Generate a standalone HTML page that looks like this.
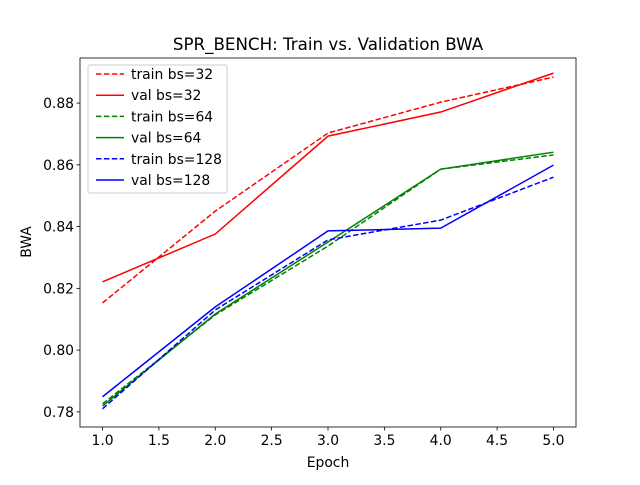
<!DOCTYPE html>
<html><head><meta charset="utf-8"><style>
body{margin:0;background:#fff}
svg{font-family:"DejaVu Sans","Liberation Sans",sans-serif}
</style></head><body>
<svg id="chart" width="640" height="480" xmlns="http://www.w3.org/2000/svg">
<rect width="640" height="480" fill="#fff"/>
<text x="328" y="50" text-anchor="middle" font-size="16.7">SPR_BENCH: Train vs. Validation BWA</text>
<g id="plot"></g>
<text x="328" y="467" text-anchor="middle" font-size="13.9">Epoch</text>
<text transform="translate(31,242) rotate(-90)" text-anchor="middle" font-size="13.9">BWA</text>
</svg>
<script>
const epochs=[1,2,3,4,5];
const train32=[0.8153,0.845,0.8703,0.8803,0.8884];
const val32=[0.8221,0.8376,0.8693,0.8771,0.8897];
const train64=[0.7826,0.8114,0.8337,0.8586,0.8632];
const val64=[0.7819,0.8117,0.835,0.8586,0.8641];
const train128=[0.781,0.813,0.8357,0.8421,0.856];
const val128=[0.7849,0.814,0.8386,0.8395,0.8599];
const xTicks=[1.0,1.5,2.0,2.5,3.0,3.5,4.0,4.5,5.0];
const yTicks=[0.78,0.80,0.82,0.84,0.86,0.88];
const seriesNames=["train bs=32","val bs=32","train bs=64","val bs=64","train bs=128","val bs=128"];
const L=80,R=576,T=58,B=427;
const xmin=0.8,xmax=5.2,ymin=0.7751,ymax=0.8946;
const sx=v=>L+(v-xmin)/(xmax-xmin)*(R-L);
const sy=v=>B-(v-ymin)/(ymax-ymin)*(B-T);
const NS="http://www.w3.org/2000/svg";
const g=document.getElementById('plot');
function mk(t,a){const e=document.createElementNS(NS,t);for(const k in a)e.setAttribute(k,a[k]);g.appendChild(e);return e;}
xTicks.forEach(v=>{const x=sx(v);
 const t=mk('line',{x1:x,x2:x,y1:B,y2:B+3.5,stroke:'#000','stroke-width':0.8});
 
 
 const l=mk('text',{x:x,y:B+18,'text-anchor':'middle','font-size':13.9});l.textContent=v.toFixed(1);
 
 });
yTicks.forEach(v=>{const y=sy(v);
 const t=mk('line',{x1:L-3.5,x2:L,y1:y,y2:y,stroke:'#000','stroke-width':0.8});
 
 
 const l=mk('text',{x:L-6,y:y+5,'text-anchor':'end','font-size':13.9});l.textContent=v.toFixed(2);
 
 });
const series=[[train32,'red',true],[val32,'red',false],[train64,'green',true],[val64,'green',false],[train128,'blue',true],[val128,'blue',false]];
series.forEach((s,i)=>{
 const pts=epochs.map((e,j)=>sx(e)+','+sy(s[0][j])).join(' ');
 const p=mk('polyline',{points:pts,fill:'none',stroke:s[1],'stroke-width':1.5});
 if(s[2])p.setAttribute('stroke-dasharray','5.5,2.4');
 
 
});
const frame=mk('rect',{x:L,y:T,width:R-L,height:B-T,fill:'none',stroke:'#000','stroke-width':0.8});


const lg=mk('rect',{x:88,y:65,width:139,height:128,rx:2,fill:'#fff','fill-opacity':0.8,stroke:'#ccc','stroke-width':1});


series.forEach((s,i)=>{const y=74+i*21.2;
 const ln=mk('line',{x1:96,x2:124,y1:y,y2:y,stroke:s[1],'stroke-width':1.5});
 if(s[2])ln.setAttribute('stroke-dasharray','5.5,2.4');
 
 
 const t=mk('text',{x:131,y:y+5,'font-size':13.9});t.textContent=seriesNames[i];
 
 });
</script>
</body></html>
